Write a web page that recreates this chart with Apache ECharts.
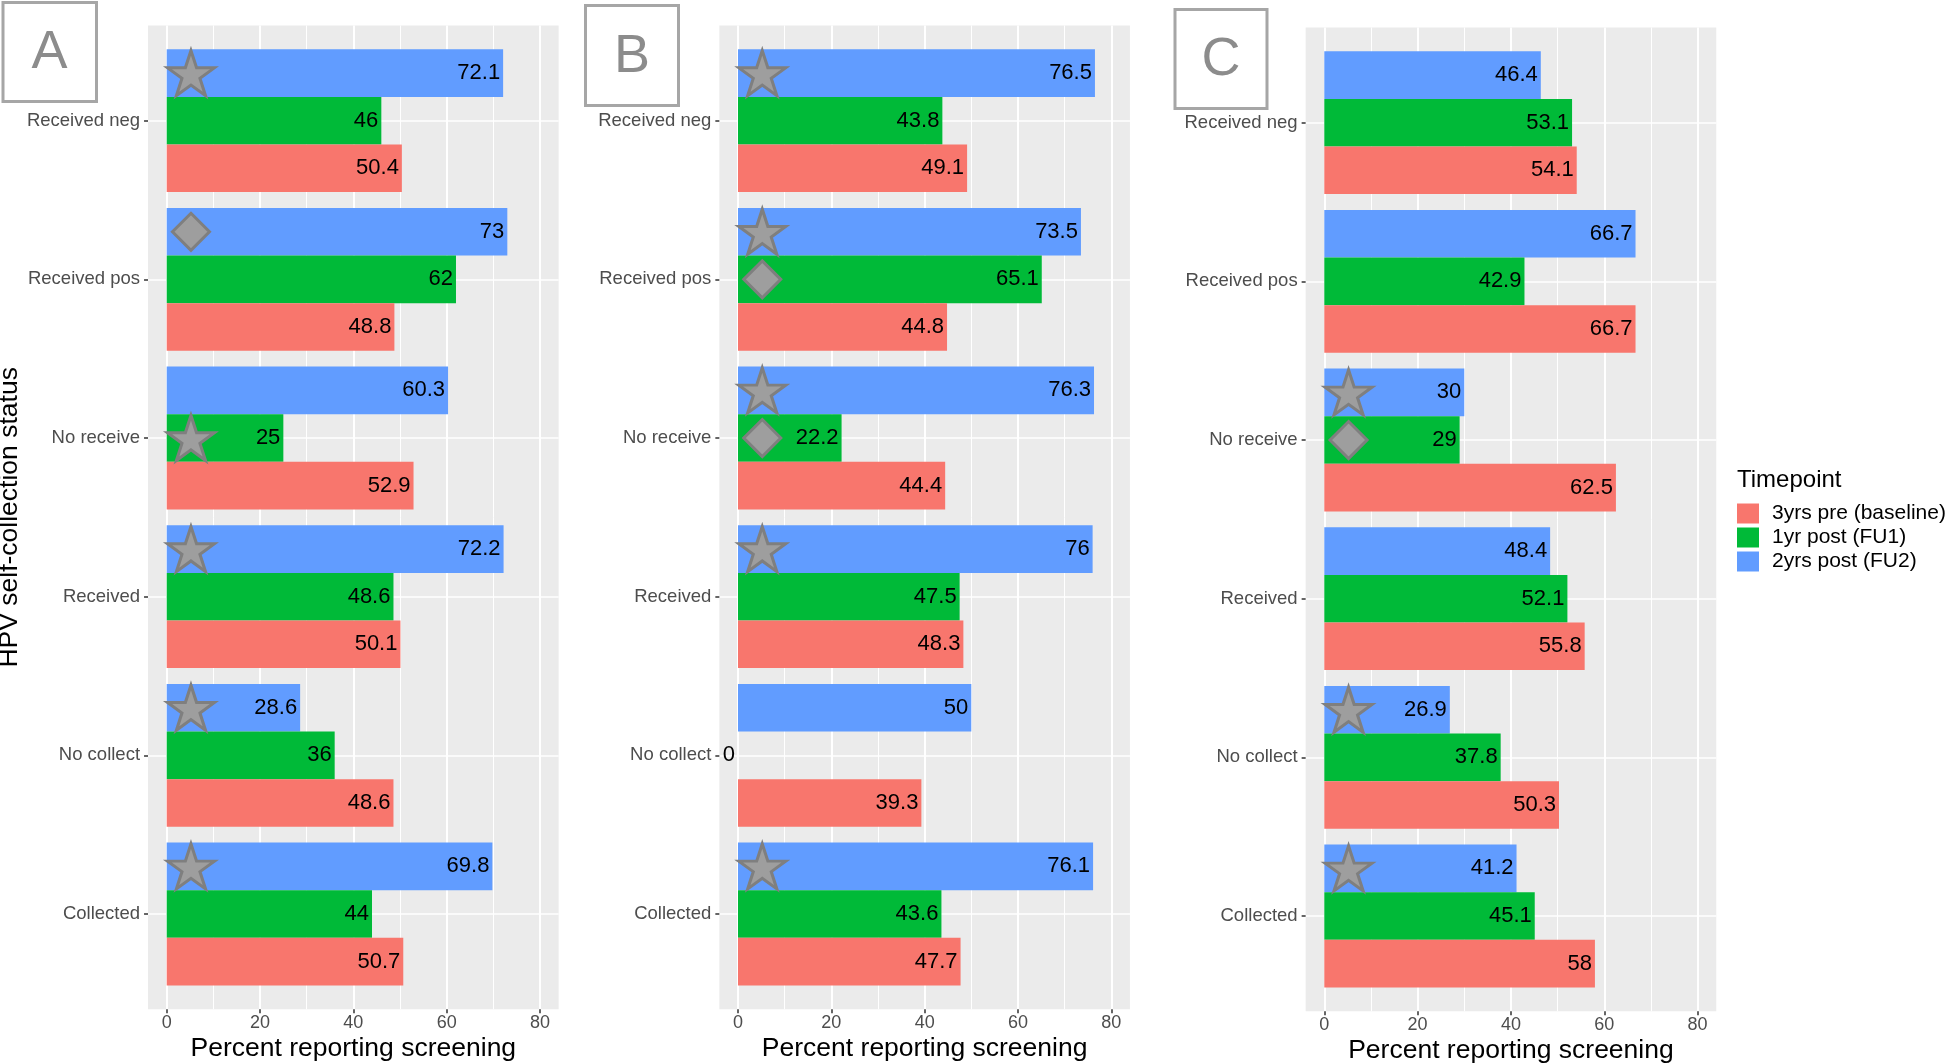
<!DOCTYPE html>
<html>
<head>
<meta charset="utf-8">
<script src="https://cdn.jsdelivr.net/npm/echarts@6/dist/echarts.min.js"></script>
<style>
html, body {margin: 0; padding: 0; background: #fff;}
#chart {width: 1946px; height: 1064px;}
</style>
</head>
<body>
<div id="chart"></div>
<script>
// categories top -> bottom, as in the picture
var categories = ['Received neg', 'Received pos', 'No receive', 'Received', 'No collect', 'Collected'];
var timepoints = ['3yrs pre (baseline)', '1yr post (FU1)', '2yrs post (FU2)'];
var xMin = 0, xMax = 80, xStep = 20;

// panel A
var baseA = [50.4, 48.8, 52.9, 50.1, 48.6, 50.7];
var fu1A = [46, 62, 25, 48.6, 36, 44];
var fu2A = [72.1, 73, 60.3, 72.2, 28.6, 69.8];
// panel B
var baseB = [49.1, 44.8, 44.4, 48.3, 39.3, 47.7];
var fu1B = [43.8, 65.1, 22.2, 47.5, 0, 43.6];
var fu2B = [76.5, 73.5, 76.3, 76, 50, 76.1];
// panel C
var baseC = [54.1, 66.7, 62.5, 55.8, 50.3, 58];
var fu1C = [53.1, 42.9, 29, 52.1, 37.8, 45.1];
var fu2C = [46.4, 66.7, 30, 48.4, 26.9, 41.2];

// significance markers (star / diamond) per bar
var markFu1A = [null, null, 'star', null, null, null];
var markFu2A = ['star', 'diamond', null, 'star', 'star', 'star'];
var markFu1B = [null, 'diamond', 'diamond', null, null, null];
var markFu2B = ['star', 'star', 'star', 'star', null, 'star'];
var markFu1C = [null, null, 'diamond', null, null, null];
var markFu2C = [null, null, 'star', null, 'star', 'star'];

var colors = ['#F8766D', '#00BA38', '#619CFF'];
var FONT = '"Liberation Sans", Arial, Helvetica, sans-serif';
var PX = 4.666;     // px per percent
var UNIT = 158.66;  // px per category
var MARK_X = 5.2;
var STAR = 'path://M50,2 L61.2,36.2 L97,36.2 L68,57.3 L79.1,91.5 L50,70.4 L20.9,91.5 L32,57.3 L3,36.2 L38.8,36.2 Z';

var panels = [
    {letter: 'A', x0: 166.7, top: 25.5, box: [3, 2.5, 93.5, 99], mid: [49.5, 53],
        base: baseA, fu1: fu1A, fu2: fu2A, m1: markFu1A, m2: markFu2A},
    {letter: 'B', x0: 738, top: 25.5, box: [585.5, 5.5, 93, 100], mid: [632, 57],
        base: baseB, fu1: fu1B, fu2: fu2B, m1: markFu1B, m2: markFu2B},
    {letter: 'C', x0: 1324.3, top: 27.5, box: [1175, 9.5, 92, 99], mid: [1221, 60],
        base: baseC, fu1: fu1C, fu2: fu2C, m1: markFu1C, m2: markFu2C}
];

var grid = [], xAxis = [], yAxis = [], series = [], graphic = [];

var hidden = function (gi) {
    return {type: 'value', gridIndex: gi, min: 0, max: 1, show: false};
};

var markData = function (marks) {
    var out = [];
    for (var i = 0; i < marks.length; i++) {
        if (!marks[i]) continue;
        var isStar = marks[i] === 'star';
        out.push({
            coord: [MARK_X, i],
            symbol: isStar ? STAR : 'diamond',
            symbolSize: isStar ? [47, 45] : [37, 37]
        });
    }
    return out;
};

var barSeries = function (name, values, color, gi, marks) {
    return {
        name: name, type: 'bar', xAxisIndex: gi, yAxisIndex: gi,
        data: values, barCategoryGap: '10%', barGap: '0%',
        itemStyle: {color: color},
        label: {
            show: true, position: 'insideRight', distance: 3,
            color: '#000', fontSize: 22, fontFamily: FONT,
            formatter: function (p) { return String(p.value); }
        },
        markPoint: marks ? {
            silent: true,
            label: {show: false},
            itemStyle: {color: '#9e9e9e', borderColor: '#7f7f7f', borderWidth: 3},
            data: markData(marks)
        } : undefined
    };
};

panels.forEach(function (p, k) {
    var gl = p.x0 - 4 * PX, gw = 88 * PX, gt = p.top, gh = 6.2 * UNIT;
    var g = 4 * k;
    // panel background
    grid.push({left: gl, top: gt, width: gw, height: gh, show: true,
        backgroundColor: '#ebebeb', borderWidth: 0, outerBoundsMode: 'none'});
    // horizontal grid lines + category labels
    grid.push({left: gl, top: gt + 0.6 * UNIT, width: gw, height: 5 * UNIT, outerBoundsMode: 'none'});
    // vertical grid lines + value axis
    grid.push({left: p.x0, top: gt, width: 80 * PX, height: gh, outerBoundsMode: 'none'});
    // bars
    grid.push({left: p.x0, top: gt + 0.1 * UNIT, width: 80 * PX, height: 6 * UNIT, outerBoundsMode: 'none'});

    xAxis.push(hidden(g));
    yAxis.push(hidden(g));

    xAxis.push(hidden(g + 1));
    var catAxis = {
        type: 'category', gridIndex: g + 1, data: categories, inverse: true, boundaryGap: false,
        axisLine: {show: false},
        axisTick: {show: true, length: 4, lineStyle: {color: '#333', width: 1.5}},
        axisLabel: {fontSize: 18.5, color: '#4d4d4d', margin: 8, fontFamily: FONT},
        splitLine: {show: true, lineStyle: {color: '#fff', width: 1.5}}
    };
    if (k === 0) {
        catAxis.name = 'HPV self-collection status';
        catAxis.nameLocation = 'middle';
        catAxis.nameGap = 124;
        catAxis.nameRotate = 90;
        catAxis.nameTextStyle = {fontSize: 26.5, color: '#000', fontFamily: FONT};
    }
    yAxis.push(catAxis);

    xAxis.push({
        type: 'value', gridIndex: g + 2, min: xMin, max: xMax, interval: xStep,
        axisLine: {show: false},
        axisTick: {show: true, length: 4, lineStyle: {color: '#333', width: 1.5}},
        axisLabel: {fontSize: 18, color: '#4d4d4d', margin: 5, fontFamily: FONT},
        splitLine: {show: true, lineStyle: {color: '#fff', width: 2}},
        minorTick: {show: false, splitNumber: 2},
        minorSplitLine: {show: true, lineStyle: {color: '#fff', width: 1}},
        name: 'Percent reporting screening', nameLocation: 'middle', nameGap: 26,
        nameMoveOverlap: false,
        nameTextStyle: {fontSize: 26.5, color: '#000', fontFamily: FONT}
    });
    yAxis.push(hidden(g + 2));

    xAxis.push({type: 'value', gridIndex: g + 3, min: xMin, max: xMax, show: false});
    yAxis.push({type: 'category', gridIndex: g + 3, data: categories, inverse: true, show: false});

    // first series is drawn on top of each group
    series.push(barSeries(timepoints[2], p.fu2, colors[2], g + 3, p.m2));
    series.push(barSeries(timepoints[1], p.fu1, colors[1], g + 3, p.m1));
    series.push(barSeries(timepoints[0], p.base, colors[0], g + 3, null));

    graphic.push({
        type: 'rect', silent: true,
        shape: {x: p.box[0], y: p.box[1], width: p.box[2], height: p.box[3]},
        style: {fill: '#fff', stroke: '#a6a6a6', lineWidth: 3}
    });
    graphic.push({
        type: 'text', silent: true, x: p.mid[0], y: p.mid[1],
        style: {text: p.letter, fontSize: 54, fontFamily: FONT, fill: '#8c8c8c',
            align: 'center', verticalAlign: 'middle'}
    });
});

var chart = echarts.init(document.getElementById('chart'));
chart.setOption({
    animation: false,
    backgroundColor: '#fff',
    textStyle: {fontFamily: FONT},
    title: {
        text: 'Timepoint', left: 1737, top: 468, padding: 0,
        textStyle: {fontSize: 24, fontWeight: 'normal', color: '#000', fontFamily: FONT}
    },
    legend: {
        orient: 'vertical', left: 1737, top: 503, padding: 0,
        itemWidth: 22, itemHeight: 20, itemGap: 3, icon: 'rect',
        selectedMode: false,
        data: timepoints,
        textStyle: {fontSize: 21, color: '#000', lineHeight: 20, padding: [0, 0, 0, 8], fontFamily: FONT}
    },
    grid: grid,
    xAxis: xAxis,
    yAxis: yAxis,
    series: series,
    graphic: graphic
});
</script>
</body>
</html>
